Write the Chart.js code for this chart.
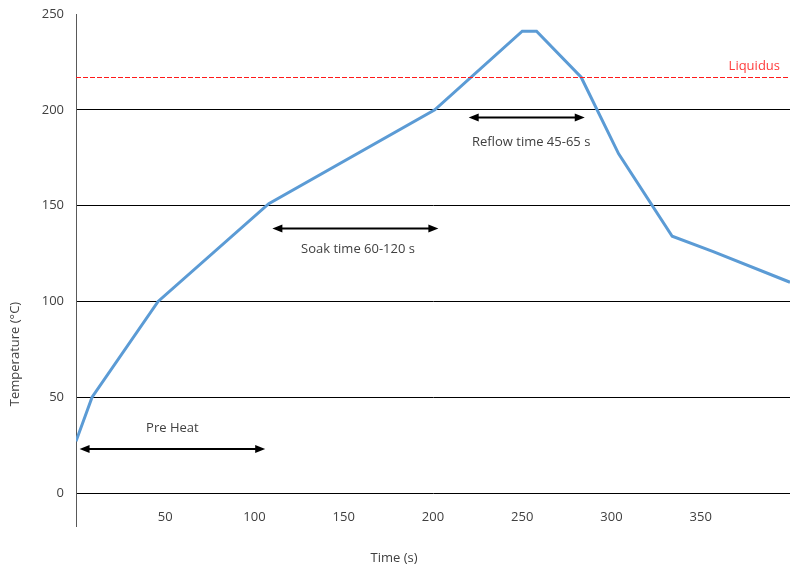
<!DOCTYPE html>
<html>
<head>
<meta charset="utf-8">
<script src="https://cdn.jsdelivr.net/npm/chart.js@4.4.1/dist/chart.umd.min.js"></script>
<style>
  html, body { margin: 0; padding: 0; background: #fff; }
  #wrap { width: 791px; height: 569px; position: relative; }
</style>
</head>
<body>
<div id="wrap"><canvas id="reflow-chart"></canvas></div>
<script>
// Reflow profile
const times = [0, 9, 46, 108, 201, 250, 258, 283, 304, 334, 357, 400];
const temps = [27, 50, 100, 151, 200, 241, 241, 217, 177, 134, 126, 110];
const yTicks = [0, 50, 100, 150, 200, 250];
const xTickLabels = [50, 100, 150, 200, 250, 300, 350];
const liquidus = 217;
// arrows: from/to time at a temperature, with a label above or below
const arrowNames = ["Pre Heat", "Soak time 60-120 s", "Reflow time 45-65 s"];
const arrowFrom = [2, 110, 220];
const arrowTo = [106, 203, 285];
const arrowAt = [23, 138, 196];
const labelX = [54, 158, 255];
const labelAt = [34, 127, 183];

const FONT = "'Open Sans', sans-serif";
const TEXT = '#404040';

const extras = {
    id: 'extras',
    afterDatasetsDraw(chart) {
        const ctx = chart.ctx;
        const x = chart.scales.x, y = chart.scales.y;
        const area = chart.chartArea;
        ctx.save();

        // axis line runs a bit below zero
        ctx.strokeStyle = '#595959';
        ctx.lineWidth = 1;
        ctx.beginPath();
        ctx.moveTo(area.left + 0.5, area.bottom);
        ctx.lineTo(area.left + 0.5, area.bottom + 34);
        ctx.stroke();

        // liquidus
        const ly = Math.round(y.getPixelForValue(liquidus)) + 0.5;
        ctx.strokeStyle = '#ff1a1a';
        ctx.setLineDash([5, 2]);
        ctx.beginPath();
        ctx.moveTo(area.left, ly);
        ctx.lineTo(area.right, ly);
        ctx.stroke();
        ctx.setLineDash([]);
        ctx.fillStyle = '#ff3b3b';
        ctx.font = '13px ' + FONT;
        ctx.textAlign = 'center';
        ctx.textBaseline = 'middle';
        ctx.fillText('Liquidus', x.getPixelForValue(380), y.getPixelForValue(222.5));

        // arrows
        ctx.strokeStyle = '#000';
        ctx.fillStyle = '#000';
        ctx.lineWidth = 2;
        for (let i = 0; i < arrowNames.length; i++) {
            const x1 = x.getPixelForValue(arrowFrom[i]);
            const x2 = x.getPixelForValue(arrowTo[i]);
            const ay = y.getPixelForValue(arrowAt[i]);
            ctx.beginPath();
            ctx.moveTo(x1 + 6, ay);
            ctx.lineTo(x2 - 6, ay);
            ctx.stroke();
            ctx.beginPath();
            ctx.moveTo(x1, ay);
            ctx.lineTo(x1 + 10, ay - 4);
            ctx.lineTo(x1 + 10, ay + 4);
            ctx.closePath();
            ctx.fill();
            ctx.beginPath();
            ctx.moveTo(x2, ay);
            ctx.lineTo(x2 - 10, ay - 4);
            ctx.lineTo(x2 - 10, ay + 4);
            ctx.closePath();
            ctx.fill();
        }
        ctx.fillStyle = TEXT;
        for (let i = 0; i < arrowNames.length; i++) {
            ctx.fillText(arrowNames[i], x.getPixelForValue(labelX[i]), y.getPixelForValue(labelAt[i]));
        }

        // axis titles
        ctx.fillText('Time (s)', 394, 558);
        ctx.translate(15, 354);
        ctx.rotate(-Math.PI / 2);
        ctx.fillText('Temperature (\u00B0C)', 0, 0);
        ctx.restore();
    }
};

new Chart(document.getElementById("reflow-chart"), {
    type: 'line',
    data: {
        datasets: [{
            data: times.map((t, i) => ({ x: t, y: temps[i] })),
            borderColor: '#5b9bd5',
            borderWidth: 3,
            pointRadius: 0,
            tension: 0,
            fill: false
        }]
    },
    options: {
        responsive: true,
        maintainAspectRatio: false,
        animation: false,
        layout: { autoPadding: false, padding: { top: 14, right: 1, left: 0, bottom: 0 } },
        plugins: {
            legend: { display: false },
            tooltip: { enabled: false }
        },
        scales: {
            x: {
                type: 'linear',
                min: 0,
                max: 400,
                afterBuildTicks: (s) => { s.ticks = xTickLabels.map(v => ({ value: v })); },
                afterFit: (s) => { s.height = 76; s.paddingLeft = 0; s.paddingRight = 0; },
                grid: { display: false, drawTicks: false },
                border: { display: false },
                ticks: {
                    padding: 16,
                    maxRotation: 0,
                    color: TEXT,
                    font: { family: FONT, size: 13 }
                }
            },
            y: {
                min: 0,
                max: 250,
                afterBuildTicks: (s) => { s.ticks = yTicks.map(v => ({ value: v })); },
                afterFit: (s) => { s.width = 76; s.paddingTop = 0; s.paddingBottom = 0; },
                grid: {
                    drawTicks: false,
                    color: (c) => c.tick && c.tick.value === 250 ? 'rgba(0,0,0,0)' : '#000',
                    lineWidth: 1
                },
                border: { display: true, color: '#595959', width: 1 },
                ticks: {
                    padding: 12,
                    color: TEXT,
                    font: { family: FONT, size: 13 }
                }
            }
        }
    },
    plugins: [extras]
});
</script>
</body>
</html>
